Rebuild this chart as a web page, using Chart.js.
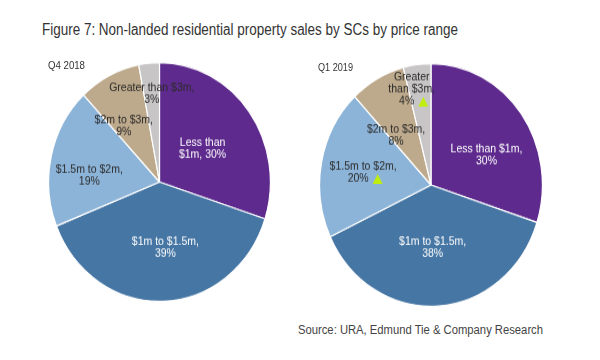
<!DOCTYPE html>
<html>
<head>
<meta charset="utf-8">
<script src="https://cdn.jsdelivr.net/npm/chart.js@4/dist/chart.umd.min.js"></script>
<style>
  body { margin: 0; background: #fff; font-family: "Liberation Sans", Arial, sans-serif; }
  #wrap { position: relative; width: 600px; height: 360px; overflow: hidden; }
  .txt { position: absolute; white-space: nowrap; transform-origin: left center; }
  canvas { position: absolute; }
</style>
</head>
<body>
<div id="wrap">
  <div class="txt" id="title" style="left:42px; top:21px; font-size:16px; line-height:18px; color:#333;">Figure 7: Non-landed residential property sales by SCs by price range</div>
  <canvas id="pieQ4" width="223" height="223" style="left:48px; top:62px; width:223px; height:240px;"></canvas>
  <canvas id="pieQ1" width="224" height="224" style="left:319px; top:63px; width:224px; height:244px;"></canvas>
  <div class="txt" id="lblQ4" style="left:48px; top:59px; font-size:10.5px; line-height:12px; color:#333;">Q4 2018</div>
  <div class="txt" id="lblQ1" style="left:318px; top:61px; font-size:10.5px; line-height:12px; color:#333;">Q1 2019</div>
  <div class="txt" id="source" style="left:298px; top:322px; font-size:12px; line-height:16px; color:#444;">Source: URA, Edmund Tie &amp; Company Research</div>
</div>
<script>
// Categorias (fatias), na ordem em que aparecem a partir do topo, sentido horário
const categorias = ["Less than $1m", "$1m to $1.5m", "$1.5m to $2m", "$2m to $3m", "Greater than $3m"];
// Percentuais
const valoresQ4 = [30, 39, 19, 9, 3];
const valoresQ1 = [30, 38, 20, 8, 4];
// Setas verdes (aumento) no Q1 2019
const subiuQ1 = [false, false, true, false, true];
// Quebra de linha dos rótulos ("|" = nova linha, "{v}" = valor)
const rotulosQ4 = ["Less than|$1m, {v}%", "$1m to $1.5m,|{v}%", "$1.5m to $2m,|{v}%", "$2m to $3m,|{v}%", "Greater than $3m,|{v}%"];
const rotulosQ1 = ["Less than $1m,|{v}%", "$1m to $1.5m,|{v}%", "$1.5m to $2m,|{v}%", "$2m to $3m,|{v}%", "Greater|than $3m,|{v}%"];

const cores = ["#5e2a8d", "#4676a4", "#8cb4d8", "#bda98b", "#c7c5c5"];
const coresTexto = ["#ffffff", "#ffffff", "#2b2b2b", "#2b2b2b", "#2b2b2b"];

function montaLinhas(modelos, valores) {
    return modelos.map((m, i) => m.replace("{v}", valores[i]).split("|"));
}

// Plugin simples para escrever os rótulos dentro das fatias
const rotulosFatias = {
    id: "rotulosFatias",
    afterDatasetsDraw(chart, args, opts) {
        const ctx = chart.ctx;
        const meta = chart.getDatasetMeta(0);
        ctx.save();
        ctx.font = '10.5px "Liberation Sans", Arial, sans-serif';
        ctx.textAlign = "center";
        ctx.textBaseline = "middle";
        meta.data.forEach((arc, i) => {
            const p = arc.getProps(["x", "y", "startAngle", "endAngle", "outerRadius"], true);
            const meio = (p.startAngle + p.endAngle) / 2;
            const r = p.outerRadius * opts.raio[i];
            const cx = p.x + Math.cos(meio) * r + opts.ajuste[i][0];
            const cy = p.y + Math.sin(meio) * r + opts.ajuste[i][1];
            const linhas = opts.linhas[i];
            const lh = 11;
            const topo = cy - (linhas.length - 1) * lh / 2;
            ctx.fillStyle = coresTexto[i];
            linhas.forEach((t, j) => {
                const yy = topo + j * lh;
                const ultima = j === linhas.length - 1;
                if (ultima && opts.subiu && opts.subiu[i]) {
                    // texto + triângulo verde centralizados juntos
                    const w = ctx.measureText(t).width;
                    const tw = 10, th = 9, gap = 4;
                    const x0 = cx - (w + gap + tw) / 2 + 2;
                    ctx.textAlign = "left";
                    ctx.fillText(t, x0, yy);
                    ctx.textAlign = "center";
                    const tx = x0 + w + gap;
                    ctx.fillStyle = "#c0ef0e";
                    ctx.beginPath();
                    ctx.moveTo(tx, yy + th / 2);
                    ctx.lineTo(tx + tw, yy + th / 2);
                    ctx.lineTo(tx + tw / 2, yy - th / 2);
                    ctx.closePath();
                    ctx.fill();
                    ctx.fillStyle = coresTexto[i];
                } else {
                    ctx.fillText(t, cx, yy);
                }
            });
        });
        ctx.restore();
    }
};

function criaPizza(id, valores, linhas, raio, ajuste, subiu) {
    const ctx = document.getElementById(id).getContext("2d");
    return new Chart(ctx, {
        type: "pie",
        data: {
            labels: categorias,
            datasets: [{
                data: valores,
                backgroundColor: cores,
                borderColor: "#ffffff",
                borderWidth: 1.2
            }]
        },
        options: {
            responsive: false,
            animation: false,
            layout: { padding: 0 },
            plugins: {
                legend: { display: false },
                tooltip: { enabled: false },
                title: { display: false },
                rotulosFatias: { linhas: linhas, raio: raio, ajuste: ajuste, subiu: subiu }
            }
        },
        plugins: [rotulosFatias]
    });
}

criaPizza("pieQ4", valoresQ4, montaLinhas(rotulosQ4, valoresQ4),
    [0.48, 0.55, 0.63, 0.57, 0.74],
    [[0, 0], [4, 0], [-2, 9], [-7, 4], [0, 0]], null);
criaPizza("pieQ1", valoresQ1, montaLinhas(rotulosQ1, valoresQ1),
    [0.56, 0.52, 0.62, 0.52, 0.81],
    [[5, 9], [-2, 0], [0, 2], [-7, 5], [-8, 2]], subiuQ1);

// Ajusta a largura dos textos ao original (fonte mais estreita)
function ajustaLargura(id, largura) {
    const el = document.getElementById(id);
    const w = el.getBoundingClientRect().width;
    el.style.transform = "scaleX(" + (largura / w) + ")";
}
ajustaLargura("title", 416);
ajustaLargura("source", 245);
ajustaLargura("lblQ4", 37);
ajustaLargura("lblQ1", 35);
</script>
</body>
</html>
